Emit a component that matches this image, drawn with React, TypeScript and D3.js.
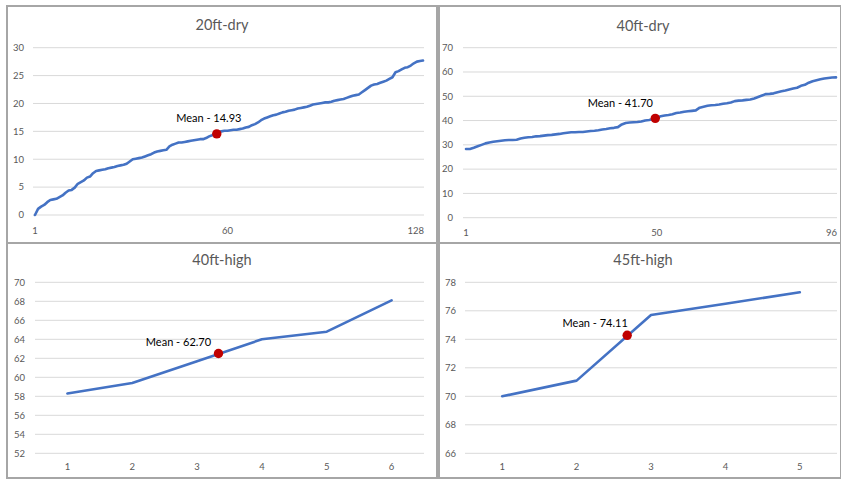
import React from "react";
import * as d3 from "d3";

// ---------- DATA ----------
const dry20Values = [
  0, 1.1, 1.5, 1.8, 2.3, 2.7, 2.8, 2.9, 3.2, 3.5,
  4.0, 4.4, 4.5, 4.9, 5.6, 5.9, 6.2, 6.7, 6.9, 7.5,
  7.9, 8.0, 8.1, 8.2, 8.4, 8.5, 8.6, 8.8, 8.9, 9.0,
  9.2, 9.6, 10.0, 10.1, 10.2, 10.3, 10.5, 10.7, 10.9, 11.2,
  11.4, 11.5, 11.6, 11.7, 12.3, 12.6, 12.8, 13.0, 13.0, 13.1,
  13.2, 13.3, 13.4, 13.5, 13.6, 13.6, 13.8, 14.1, 14.3, 14.6,
  14.9, 15.0, 15.1, 15.1, 15.2, 15.3, 15.3, 15.4, 15.5, 15.7,
  15.8, 16.1, 16.3, 16.6, 17.0, 17.3, 17.5, 17.7, 17.9, 18.0,
  18.2, 18.4, 18.5, 18.7, 18.8, 18.9, 19.1, 19.2, 19.3, 19.4,
  19.6, 19.8, 19.9, 20.0, 20.1, 20.2, 20.2, 20.3, 20.5, 20.6,
  20.7, 20.8, 21.0, 21.2, 21.4, 21.5, 21.6, 22.0, 22.4, 22.8,
  23.2, 23.4, 23.5, 23.7, 23.9, 24.1, 24.4, 24.7, 25.6, 25.8,
  26.1, 26.4, 26.5, 26.8, 27.2, 27.5, 27.6, 27.7,
];
const dry40Values = [
  28.3, 28.3, 28.8, 29.4, 30.0, 30.6, 31.0, 31.3, 31.5, 31.7,
  31.9, 32.0, 32.0, 32.1, 32.6, 32.9, 33.1, 33.2, 33.5, 33.6,
  33.8, 34.0, 34.1, 34.3, 34.5, 34.8, 35.0, 35.2, 35.2, 35.3,
  35.3, 35.5, 35.7, 35.8, 36.0, 36.3, 36.5, 36.8, 37.0, 37.3,
  38.4, 39.0, 39.2, 39.3, 39.4, 39.6, 40.0, 40.2, 40.5, 41.2,
  41.8, 42.1, 42.3, 42.6, 43.1, 43.3, 43.6, 43.8, 44.0, 44.2,
  45.3, 45.7, 46.1, 46.3, 46.4, 46.6, 46.9, 47.1, 47.4, 48.0,
  48.2, 48.3, 48.5, 48.7, 49.1, 49.7, 50.3, 50.9, 51.0, 51.2,
  51.7, 52.1, 52.4, 52.8, 53.2, 53.5, 54.3, 54.7, 55.6, 56.2,
  56.6, 57.0, 57.3, 57.5, 57.7, 57.8,
];
const high40Values = [58.3, 59.4, 61.7, 64.0, 64.8, 68.1];
const high45Values = [70.0, 71.1, 75.7, 76.5, 77.3];

const dry20YTicks = [0, 5, 10, 15, 20, 25, 30];
const dry40YTicks = [0, 10, 20, 30, 40, 50, 60, 70];
const high40YTicks = [52, 54, 56, 58, 60, 62, 64, 66, 68, 70];
const high45YTicks = [66, 68, 70, 72, 74, 76, 78];

const dry20XTickAt = [1, 64, 128];
const dry20XTickText = ["1", "60", "128"];
const dry40XTickAt = [1, 50, 96];
const dry40XTickText = ["1", "50", "96"];
const high40XTickAt = [1, 2, 3, 4, 5, 6];
const high40XTickText = ["1", "2", "3", "4", "5", "6"];
const high45XTickAt = [1, 2, 3, 4, 5];
const high45XTickText = ["1", "2", "3", "4", "5"];

const titles = ["20ft-dry", "40ft-dry", "40ft-high", "45ft-high"];
const meanLabels = ["Mean - 14.93", "Mean - 41.70", "Mean - 62.70", "Mean - 74.11"];
const meanAt = [60.5, 49.6, 3.33, 2.68];
const meanValue = [14.55, 40.9, 62.5, 74.28];

// ---------- LAYOUT ----------
type Panel = {
  values: number[];
  yTicks: number[];
  xAt: number[];
  xText: string[];
  band: boolean;
  frame: [number, number, number, number];
  gx: [number, number];
  dx: [number, number];
  yr: [number, number];
  titleX: number;
  titleY: number;
  yLabX: number;
  xLabY: number;
  labDx: number;
  labDy: number;
  lastEnd: boolean;
};

const panels: Panel[] = [
  {
    values: dry20Values, yTicks: dry20YTicks, xAt: dry20XTickAt, xText: dry20XTickText, band: false,
    frame: [7, 6, 437, 243], gx: [33, 424], dx: [35, 423], yr: [215, 47.7],
    titleX: 222, titleY: 30, yLabX: 24, xLabY: 234, labDx: -8, labDy: -11.5, lastEnd: true,
  },
  {
    values: dry40Values, yTicks: dry40YTicks, xAt: dry40XTickAt, xText: dry40XTickText, band: false,
    frame: [439, 6, 841, 243], gx: [463, 837], dx: [466, 836], yr: [217.7, 47.7],
    titleX: 643, titleY: 30.5, yLabX: 453, xLabY: 235.5, labDx: -35, labDy: -11, lastEnd: true,
  },
  {
    values: high40Values, yTicks: high40YTicks, xAt: high40XTickAt, xText: high40XTickText, band: true,
    frame: [7, 243, 437, 478], gx: [35, 424], dx: [35, 424], yr: [453.3, 282.3],
    titleX: 222, titleY: 265, yLabX: 25, xLabY: 470, labDx: -40, labDy: -8, lastEnd: false,
  },
  {
    values: high45Values, yTicks: high45YTicks, xAt: high45XTickAt, xText: high45XTickText, band: true,
    frame: [439, 243, 841, 478], gx: [465, 837], dx: [465, 837], yr: [453.3, 282.3],
    titleX: 643, titleY: 265, yLabX: 456, xLabY: 469.5, labDx: -32, labDy: -8, lastEnd: false,
  },
];

const FONT = "Lato, 'Open Sans', sans-serif";

function ChartPanel({ p, i }: { p: Panel; i: number }) {
  const n = p.values.length;
  const x = p.band
    ? d3.scaleLinear().domain([0.5, n + 0.5]).range(p.dx)
    : d3.scaleLinear().domain([1, n]).range(p.dx);
  const y = d3
    .scaleLinear()
    .domain([p.yTicks[0], p.yTicks[p.yTicks.length - 1]])
    .range(p.yr);
  const line = d3
    .line<number>()
    .x((_, k) => x(k + 1))
    .y((v) => y(v));
  const [fx0, fy0, fx1, fy1] = p.frame;
  const mx = x(meanAt[i]);
  const my = y(meanValue[i]);
  return (
    <g>
      <rect x={fx0} y={fy0} width={fx1 - fx0} height={fy1 - fy0} fill="#fff" stroke="#a6a6a6" strokeWidth={2} />
      <text x={p.titleX} y={p.titleY} textAnchor="middle" fontSize={14.5} fill="#595959" fontFamily={FONT}>
        {titles[i]}
      </text>
      {p.yTicks.map((t) => (
        <g key={t}>
          <line x1={p.gx[0]} x2={p.gx[1]} y1={y(t)} y2={y(t)} stroke="#d9d9d9" strokeWidth={1} />
          <text x={p.yLabX} y={y(t)} dy="0.35em" textAnchor="end" fontSize={9.5} fill="#595959" fontFamily={FONT}>
            {t}
          </text>
        </g>
      ))}
      {p.xAt.map((t, k) => {
        const isLast = p.lastEnd && k === p.xAt.length - 1;
        return (
          <text
            key={k}
            x={isLast ? p.gx[1] : x(t)}
            y={p.xLabY}
            textAnchor={isLast ? "end" : "middle"}
            fontSize={9.5}
            fill="#595959"
            fontFamily={FONT}
          >
            {p.xText[k]}
          </text>
        );
      })}
      <path d={line(p.values) || ""} fill="none" stroke="#4472c4" strokeWidth={2.6} strokeLinejoin="round" strokeLinecap="round" />
      <circle cx={mx} cy={my} r={4.7} fill="#c00000" />
      <text x={mx + p.labDx} y={my + p.labDy} textAnchor="middle" fontSize={11} fill="#000" fontFamily={FONT}>
        {meanLabels[i]}
      </text>
    </g>
  );
}

export default function App() {
  return (
    <svg width={841} height={479} style={{ position: "absolute", left: 0, top: 0, background: "#fff" }}>
      <rect x={0} y={0} width={841} height={479} fill="#fff" />
      {panels.map((p, i) => (
        <ChartPanel key={i} p={p} i={i} />
      ))}
    </svg>
  );
}
